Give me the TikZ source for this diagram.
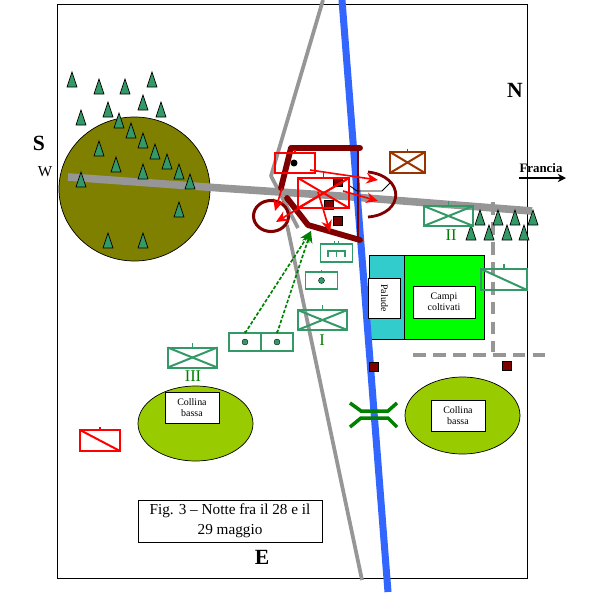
\documentclass[tikz,border=0pt]{standalone}
\usepackage{xcolor}
\usepackage{fontspec}
\setmainfont{Liberation Serif}
\usetikzlibrary{arrows.meta, calc}
\definecolor{myolive}{RGB}{128,128,0}
\definecolor{mylime}{RGB}{153,204,0}
\definecolor{myblue}{RGB}{51,102,255}
\definecolor{mygray}{RGB}{150,150,150}
\definecolor{mysea}{RGB}{51,153,102}
\definecolor{mygreen}{RGB}{0,128,0}
\definecolor{mydarkred}{RGB}{128,0,0}
\definecolor{mybrown}{RGB}{153,51,0}
\definecolor{mycyan}{RGB}{51,204,204}
\tikzset{
  unit/.style={rectangle, draw=#1, line width=1.7pt, inner sep=0pt, outer sep=0pt},
  unit/.default=mysea,
  bigunit/.style={minimum width=1.49cm, minimum height=0.6cm},
  smallunit/.style={minimum width=0.96cm, minimum height=0.53cm},
  tick/.style={line width=1.7pt},
  tree/.style={draw=black, line width=0.6pt, fill=mysea},
  label/.style={rectangle, draw=black, fill=white, line width=0.8pt, inner sep=0pt, outer sep=0pt,
    align=center, font=\fontsize{8.5}{9.5}\selectfont},
  road/.style={mygray, line width=6.5pt},
  track/.style={mygray, line width=3.2pt},
  trail/.style={mygray, line width=3.8pt, dash pattern=on 11pt off 6pt},
  fort/.style={mydarkred, line width=5pt, line join=round, line cap=round},
  redarrow/.style={-{Stealth[length=10pt,width=9pt]}, red, line width=1.4pt},
  greenarrow/.style={-{Stealth[length=10pt,width=9pt]}, mygreen, line width=1.4pt, dash pattern=on 3pt off 1.5pt},
  bridge/.style={mygreen, line width=3pt},
  depot/.style={rectangle, draw=black, fill=mydarkred, line width=0.7pt, minimum width=0.27cm, minimum height=0.25cm, inner sep=0pt},
  cardinal/.style={font=\fontsize{18.5}{18.5}\selectfont\bfseries},
  numeral/.style={mygreen, font=\fontsize{14}{14}\selectfont}
}
\begin{document}
\begin{tikzpicture}[x=0.03cm, y=-0.03cm]
  \useasboundingbox (0,0) rectangle (595,603);

  % Frame
  \draw[black, line width=0.8pt] (57,4) rectangle (527,578);

  % Hills
  \fill[myolive, draw=black, line width=0.6pt] (134.5,189) ellipse (75.5 and 72);
  \fill[mylime, draw=black, line width=0.6pt] (195.5,423.5) ellipse (57.5 and 37.5);
  \fill[mylime, draw=black, line width=0.6pt] (462.5,415.5) ellipse (57.5 and 38.5);

  % Fields
  \draw[black, fill=mycyan, line width=0.8pt] (369,255) rectangle (404,339);
  \draw[black, fill=green, line width=0.8pt] (404,255) rectangle (484.5,339);

  % Roads
  \draw[track, line join=round] (323,0) -- (271,176) -- (298,228);
  \draw[track] (287,225) -- (362,580);
  \draw[road] (68,177) -- (220,188) -- (340,196) -- (532,211);
  \draw[trail] (493,202) -- (493,352);
  \draw[trail] (413,355) -- (546,355);

  % River
  \draw[myblue, line width=6pt] (342,0) -- (388,592);

  % Bridge
  \draw[bridge] (350,403) -- (361,411) -- (388,411) -- (397,403);
  \draw[bridge] (350,427) -- (361,418) -- (388,418) -- (397,427);

  % Trees
  \foreach \x/\y in {72/87, 99/94, 125/94, 152/87, 143/110, 108/117, 161/117, 81/125,
    119/128, 131/138, 143/148, 155/159, 167/169, 179/179, 190/189, 99/156, 116/172,
    143/179, 81/187, 179/217, 108/248, 143/248,
    480/225, 498/225, 515/225, 533/225, 471/240, 489/240, 507/240, 524/240} {
    \draw[tree] (\x-5,\y) -- (\x,\y-15) -- (\x+5,\y) -- cycle;
  }

  % Hill and field labels
  \node[label, minimum width=1.62cm, minimum height=0.93cm] (lblLeft) at (192,407.5) {Collina\\bassa};
  \node[label, minimum width=1.62cm, minimum height=0.93cm] (lblRight) at (458,415.5) {Collina\\bassa};
  \node[label, minimum width=0.97cm, minimum height=1.2cm] (lblPalude) at (384.5,298) {};
  \node[font=\fontsize{8.5}{9}\selectfont, rotate=-90] (txtPalude) at (lblPalude) {Palude};
  \node[label, minimum width=1.86cm, minimum height=0.96cm] (lblCampi) at (444,302) {Campi\\coltivati};

  % Caption
  \node[label, minimum width=5.52cm, minimum height=1.26cm, font=\fontsize{13}{17.5}\selectfont] (caption) at (230,521)
    {Fig. 3 -- Notte fra il 28 e il\\29 maggio};

  % Cardinal points
  \node[cardinal] (north) at (515,90) {N};
  \node[cardinal] (south) at (39,143) {S};
  \node[font=\fontsize{13}{13}\selectfont] (west) at (45,172) {W};
  \node[cardinal] (east) at (262,557) {E};
  \node[font=\fontsize{11}{11}\selectfont\bfseries] (francia) at (541,168) {Francia};
  \coordinate (franciaA) at (519,178);
  \coordinate (franciaB) at (566,178);
  \draw[-{Stealth[length=7pt,width=7pt]}, line width=1.3pt] (franciaA) -- (franciaB);

  % Depots
  \node[depot] (depA) at (338,182) {};
  \node[depot] (depB) at (329,205) {};
  \node[depot] (depC) at (338,221) {};
  \node[depot] (depD) at (374,367) {};
  \node[depot] (depE) at (507,366) {};

  % Fortifications
  \draw[fort] (360,148) -- (291,148) -- (281,188);
  \draw[fort] (287,198) -- (308,225) -- (360,240);
  \draw[mydarkred, line width=2pt] (358,148) -- (358,240);
  \draw[mydarkred, line width=2.6pt] (271,216) ellipse (17.5 and 15.5);
  \draw[mydarkred, line width=2.4pt] (368,172) .. controls (405,176) and (405,214) .. (368,217);
  \draw[black, line width=0.7pt] (350,186) -- (357,191) -- (382,191) -- (390,183);

  % Red units
  \node[unit=red, minimum width=1.2cm, minimum height=0.6cm] (redDot) at (295,163) {};
  \draw[red, tick] (redDot.north) -- ++(0,-3);
  \fill[black] (294,163) circle (3.5);
  \node[unit=red, minimum width=1.53cm, minimum height=0.9cm] (redBig) at (323.5,193) {};
  \draw[red, tick] (redBig.north) -- ++(0,-6);
  \draw[red, line width=1.7pt] (redBig.north west) -- (redBig.south east);
  \draw[red, line width=1.7pt] (redBig.south west) -- (redBig.north east);
  \node[unit=red, minimum width=1.2cm, minimum height=0.63cm] (redLow) at (100,440.5) {};
  \draw[red, tick] (redLow.north) -- ++(0,-3);
  \draw[red, line width=1.7pt] (redLow.north west) -- (redLow.south east);

  % Red arrows
  \coordinate (arrA) at (310,170);
  \coordinate (arrB) at (378,180);
  \coordinate (arrC) at (343,191);
  \coordinate (arrD) at (378,201);
  \coordinate (arrE) at (282,188);
  \coordinate (arrF) at (275,211);
  \coordinate (arrH) at (276,222);
  \coordinate (arrI) at (318,192);
  \coordinate (arrJ) at (330,232);
  \draw[redarrow] (arrA) -- (arrB);
  \draw[redarrow] (arrC) -- (arrD);
  \draw[redarrow] (arrE) -- (arrF);
  \draw[redarrow] (redBig.north east) -- (arrH);
  \draw[redarrow] (arrI) -- (arrJ);

  % Brown unit
  \node[unit=mybrown, minimum width=1.05cm, minimum height=0.63cm] (brownUnit) at (407.5,162.5) {};
  \draw[mybrown, tick] (brownUnit.north) -- ++(0,-3);
  \draw[mybrown, line width=1.7pt] (brownUnit.north west) -- (brownUnit.south east);
  \draw[mybrown, line width=1.7pt] (brownUnit.south west) -- (brownUnit.north east);

  % Green units
  \node[unit, bigunit] (unitI) at (322.5,320) {};
  \node[unit, bigunit] (unitII) at (448.5,216) {};
  \node[unit, bigunit] (unitIII) at (192.5,357.5) {};
  \foreach \u in {unitI, unitII, unitIII} {
    \draw[mysea, tick] (\u.north) -- ++(0,-5);
    \draw[mysea, line width=1.7pt] (\u.north west) -- (\u.south east);
    \draw[mysea, line width=1.7pt] (\u.south west) -- (\u.north east);
  }
  \node[numeral] (numI) at (322,340) {I};
  \node[numeral] (numII) at (451,235) {II};
  \node[numeral] (numIII) at (193,376) {III};

  \node[unit, minimum width=1.38cm, minimum height=0.63cm] (unitEast) at (504,279.5) {};
  \draw[mysea, tick] (unitEast.north) -- ++(0,-5);
  \draw[mysea, line width=1.7pt] (unitEast.north west) -- (unitEast.south east);

  \node[unit, smallunit] (unitComb) at (336.5,253) {};
  \draw[mysea, tick] ($(unitComb.north)+(-2,0)$) -- ++(0,-3);
  \draw[mysea, tick] ($(unitComb.north)+(2,0)$) -- ++(0,-3);
  \draw[mysea, line width=1.4pt] (328,257) -- (328,251) -- (345,251) -- (345,257);
  \draw[mysea, line width=1.4pt] (336.5,251) -- (336.5,257);

  \node[unit, smallunit] (unitGun) at (321.5,280.5) {};
  \node[unit, smallunit] (unitGunA) at (245,342) {};
  \node[unit, smallunit] (unitGunB) at (277,342) {};
  \foreach \u in {unitGun, unitGunA, unitGunB} {
    \draw[mysea, tick] (\u.north) -- ++(0,-2);
    \fill[mysea, draw=black, line width=0.3pt] (\u.center) circle (3);
  }

  % Green arrows
  \coordinate (assault) at (311,231);
  \draw[greenarrow] (unitGunA.north) -- (assault);
  \draw[greenarrow] (unitGunB.north) -- (assault);
\end{tikzpicture}
\end{document}
